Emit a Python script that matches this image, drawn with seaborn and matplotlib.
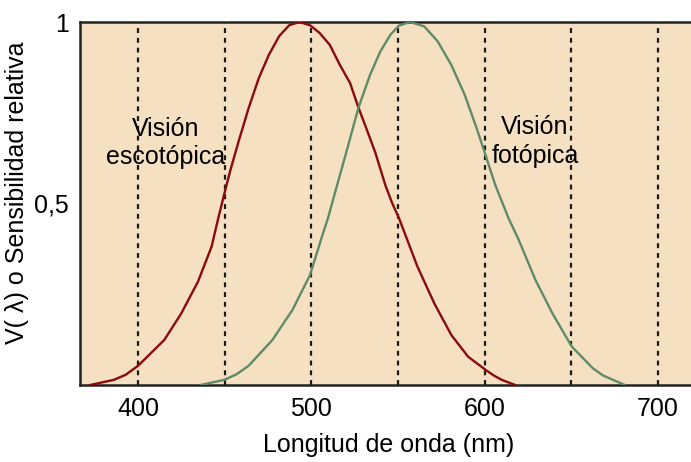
import numpy as np
import pandas as pd
import matplotlib
matplotlib.use("Agg")
import matplotlib.pyplot as plt
import seaborn as sns

# Scotopic (escotópica) sensitivity curve
scot_nm = [372.3, 385.9, 392.8, 400, 415.1, 424.9, 434.6, 442.4, 446.3, 449.6, 453.1, 458,
           463.8, 469.7, 475.5, 481.4, 487.2, 493, 499.2, 504.7, 510.6, 516.4, 522.3,
           527.1, 532, 536.9, 542.7, 546.6, 550.5, 561.2, 570.9, 580.7, 590.4, 600.7,
           605.3, 609.9, 617.6]
scot_v = [0.0, 0.014, 0.028, 0.053, 0.124, 0.197, 0.285, 0.381, 0.46, 0.524, 0.589, 0.671,
          0.763, 0.846, 0.91, 0.961, 0.991, 1.0, 0.991, 0.97, 0.937, 0.882, 0.832,
          0.765, 0.703, 0.64, 0.55, 0.501, 0.46, 0.326, 0.225, 0.138, 0.078, 0.041,
          0.026, 0.014, 0.0]

# Photopic (fotópica) sensitivity curve
phot_nm = [436, 449.6, 457, 463.8, 477.5, 489.1, 499.2, 506.7, 509.6, 514.4, 520.3, 527.1,
           533.9, 539.8, 545.6, 550.5, 556.9, 565.1, 572.8, 580.7, 588.4, 595.3, 600.7,
           606, 613.7, 619.6, 629.3, 639.1, 650.2, 662.4, 668, 674.1, 680.9]
phot_v = [0.0, 0.014, 0.03, 0.053, 0.124, 0.207, 0.303, 0.418, 0.46, 0.543, 0.644, 0.763,
          0.855, 0.919, 0.965, 0.99, 1.0, 0.988, 0.947, 0.882, 0.8, 0.708, 0.63,
          0.552, 0.46, 0.40, 0.289, 0.197, 0.106, 0.046, 0.027, 0.014, 0.0]

ref_lines = [400, 450, 500, 550, 600, 650, 700]
x_ticks = [400, 500, 600, 700]
x_ticklabels = ["400", "500", "600", "700"]
y_ticks = [0.5, 1.0]
y_ticklabels = ["0,5", "1"]

sns.set_style("white")
plt.rcParams['font.family'] = ['Liberation Sans', 'DejaVu Sans']
plt.rcParams['text.color'] = 'black'
plt.rcParams['axes.labelcolor'] = 'black'
plt.rcParams['xtick.color'] = 'black'
plt.rcParams['ytick.color'] = 'black'

df = pd.concat([
    pd.DataFrame({"nm": scot_nm, "v": scot_v, "curva": "escotópica"}),
    pd.DataFrame({"nm": phot_nm, "v": phot_v, "curva": "fotópica"}),
])

fig = plt.figure(figsize=(6.91, 4.62), dpi=100)
ax = fig.add_axes([80 / 691, 1 - 385 / 462, 1 - 80 / 691 + 0.01, (385 - 22) / 462])
ax.set_facecolor("#f5e0c1")

for xv in ref_lines:
    ax.axvline(xv, color="#1a1a1a", lw=1.6, ls=(0, (2.2, 2.2)), zorder=1)

sns.lineplot(data=df, x="nm", y="v", hue="curva",
             palette={"escotópica": "#8b0a0a", "fotópica": "#5f8b68"},
             lw=1.7, legend=False, ax=ax, sort=False, zorder=3)

ax.set_xlim(366.5, 723)
ax.set_ylim(0, 1)
ax.set_xticks(x_ticks)
ax.set_xticklabels(x_ticklabels)
ax.set_yticks(y_ticks)
ax.set_yticklabels(y_ticklabels)
ax.tick_params(axis="both", length=0, labelsize=18, labelcolor="black")
ax.tick_params(axis="x", pad=9)
ax.tick_params(axis="y", pad=8)

for side in ["left", "bottom", "top"]:
    ax.spines[side].set_color("#222222")
    ax.spines[side].set_linewidth(1.8)
ax.spines["right"].set_visible(False)

ax.set_xlabel("Longitud de onda (nm)", fontsize=18, labelpad=8, color="black")
ax.set_ylabel("V( λ) o Sensibilidad relativa", fontsize=18, color="black")
ax.yaxis.set_label_coords(-0.082, 0.53)

ax.text(416, 0.667, "Visión\nescotópica", ha="center", va="center", fontsize=18,
        linespacing=1.25, zorder=4, color="black")
ax.text(629, 0.67, "Visión\nfotópica", ha="center", va="center", fontsize=18,
        linespacing=1.25, zorder=4, color="black")

fig.savefig("out.png", dpi=100)
